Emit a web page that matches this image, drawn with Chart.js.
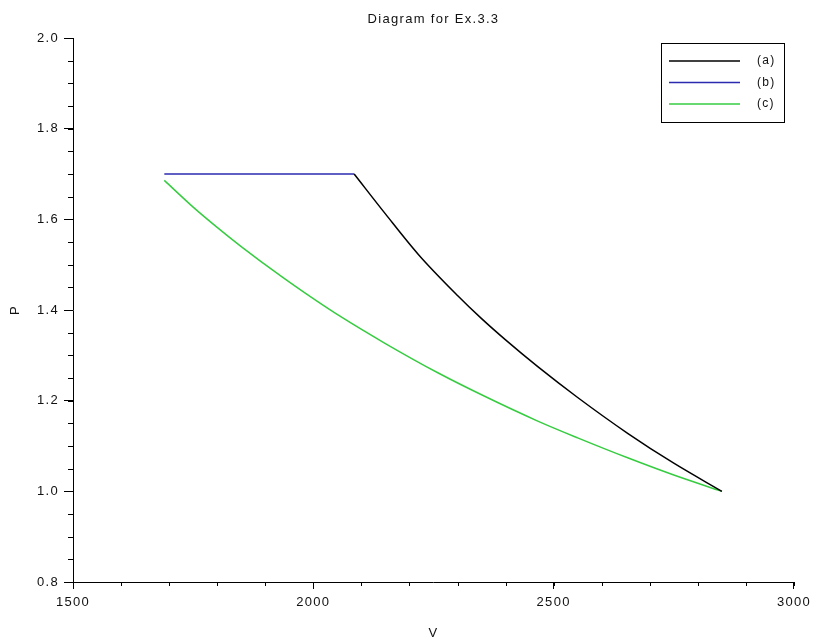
<!DOCTYPE html>
<html>
<head>
<meta charset="utf-8">
<script src="https://cdn.jsdelivr.net/npm/chart.js@4"></script>
<style>
  html, body { margin: 0; padding: 0; background: #fff; }
  #chart { display: block; }
</style>
</head>
<body>
<canvas id="chart" width="817" height="644"></canvas>
<script>
// Data
const title = 'Diagram for Ex.3.3';
const labels = ['(a)', '(b)', '(c)'];

// (a) black curve
const aV = [2085, 2150, 2219, 2300, 2349, 2400, 2467, 2550, 2654, 2750, 2850];
const aP = [1.700, 1.612, 1.522, 1.432, 1.382, 1.334, 1.275, 1.207, 1.128, 1.062, 1.000];

// (b) blue line
const bV = [1690, 2085];
const bP = [1.70, 1.70];

// (c) green curve
const cV = [1690, 1750, 1798, 1850, 1935, 2000, 2053, 2150, 2260, 2350, 2467, 2550, 2654, 2750, 2850];
const cP = [1.686, 1.627, 1.584, 1.540, 1.473, 1.425, 1.388, 1.326, 1.261, 1.213, 1.155, 1.118, 1.074, 1.036, 1.000];

const colors = ['#000000', '#2b2bb0', '#36cc40'];

const FONT = 'Liberation Sans, Arial, sans-serif';
const SPACING = '1.3px';

const toPts = (xs, ys) => xs.map((x, i) => ({ x, y: ys[i] }));

// the reference text is drawn a little spread out
const spacing = {
  id: 'spacing',
  beforeUpdate(chart) { chart.ctx.letterSpacing = SPACING; },
  beforeDraw(chart) { chart.ctx.letterSpacing = SPACING; }
};

// minor tick marks (drawn with the scale's own pixel mapping) + title over the plot
const extras = {
  id: 'extras',
  afterDraw(chart) {
    const ctx = chart.ctx;
    const xs = chart.scales.x, ys = chart.scales.y;
    ctx.save();
    ctx.strokeStyle = '#000';
    ctx.lineWidth = 1;
    ctx.beginPath();
    for (let v = xs.min; v <= xs.max + 1e-6; v += 100) {
      const px = Math.round(xs.getPixelForValue(v)) + 0.5;
      ctx.moveTo(px, xs.top);
      ctx.lineTo(px, xs.top + 4);
    }
    for (let v = ys.min; v <= ys.max + 1e-6; v += 0.05) {
      const py = Math.round(ys.getPixelForValue(v)) + 0.5;
      ctx.moveTo(ys.right, py);
      ctx.lineTo(ys.right - 5, py);
    }
    ctx.stroke();

    const area = chart.chartArea;
    ctx.font = '13px ' + FONT;
    ctx.fillStyle = '#111';
    ctx.textAlign = 'center';
    ctx.textBaseline = 'middle';
    ctx.fillText(title, (area.left + area.right) / 2, 19);
    ctx.restore();
  }
};

// boxed legend in the top right corner
const boxLegend = {
  id: 'boxLegend',
  afterDraw(chart) {
    const ctx = chart.ctx;
    const x0 = 661, y0 = 43, w = 123, h = 79;
    ctx.save();
    ctx.fillStyle = '#fff';
    ctx.fillRect(x0, y0, w, h);
    ctx.strokeStyle = '#000';
    ctx.lineWidth = 1;
    ctx.strokeRect(x0 + 0.5, y0 + 0.5, w, h);
    ctx.font = '12px ' + FONT;
    ctx.textBaseline = 'middle';
    chart.data.datasets.forEach((ds, i) => {
      const y = y0 + 18 + i * 21.5;
      ctx.strokeStyle = ds.borderColor;
      ctx.lineWidth = 1.5;
      ctx.beginPath();
      ctx.moveTo(x0 + 8, y);
      ctx.lineTo(x0 + 79, y);
      ctx.stroke();
      ctx.fillStyle = '#111';
      ctx.fillText(ds.label, x0 + 96, y);
    });
    ctx.restore();
  }
};

new Chart(document.getElementById('chart'), {
  type: 'scatter',
  data: {
    datasets: [
      { label: labels[0], data: toPts(aV, aP) },
      { label: labels[1], data: toPts(bV, bP) },
      { label: labels[2], data: toPts(cV, cP) }
    ].map((d, i) => Object.assign(d, {
      showLine: true,
      borderColor: colors[i],
      backgroundColor: colors[i],
      borderWidth: 1.5,
      pointRadius: 0,
      cubicInterpolationMode: 'monotone',
      fill: false
    }))
  },
  plugins: [spacing, extras, boxLegend],
  options: {
    responsive: false,
    animation: false,
    layout: { padding: { top: 38, right: 21, bottom: 0, left: 0 } },
    plugins: {
      legend: { display: false },
      tooltip: { enabled: false },
      title: { display: false }
    },
    scales: {
      x: {
        type: 'linear',
        min: 1500,
        max: 3000,
        afterFit: s => { s.height = 62; },
        border: { display: true, color: '#000', width: 1 },
        grid: { drawOnChartArea: false, drawTicks: true, tickLength: 7, color: '#000' },
        ticks: {
          stepSize: 500,
          color: '#111',
          padding: 6,
          maxRotation: 0,
          font: { family: FONT, size: 13 },
          callback: v => String(v)
        },
        title: {
          display: true,
          text: 'V',
          color: '#111',
          font: { family: FONT, size: 13 },
          padding: { top: 4, bottom: 3 }
        }
      },
      y: {
        type: 'linear',
        min: 0.8,
        max: 2.0,
        afterFit: s => { s.width = 73; },
        border: { display: true, color: '#000', width: 1 },
        grid: { drawOnChartArea: false, drawTicks: true, tickLength: 9, color: '#000' },
        ticks: {
          stepSize: 0.2,
          color: '#111',
          padding: 5,
          font: { family: FONT, size: 13 },
          callback: v => v.toFixed(1)
        },
        title: {
          display: true,
          text: 'P',
          color: '#111',
          font: { family: FONT, size: 13 },
          padding: { top: 8, bottom: 4 }
        }
      }
    }
  }
});
</script>
</body>
</html>
